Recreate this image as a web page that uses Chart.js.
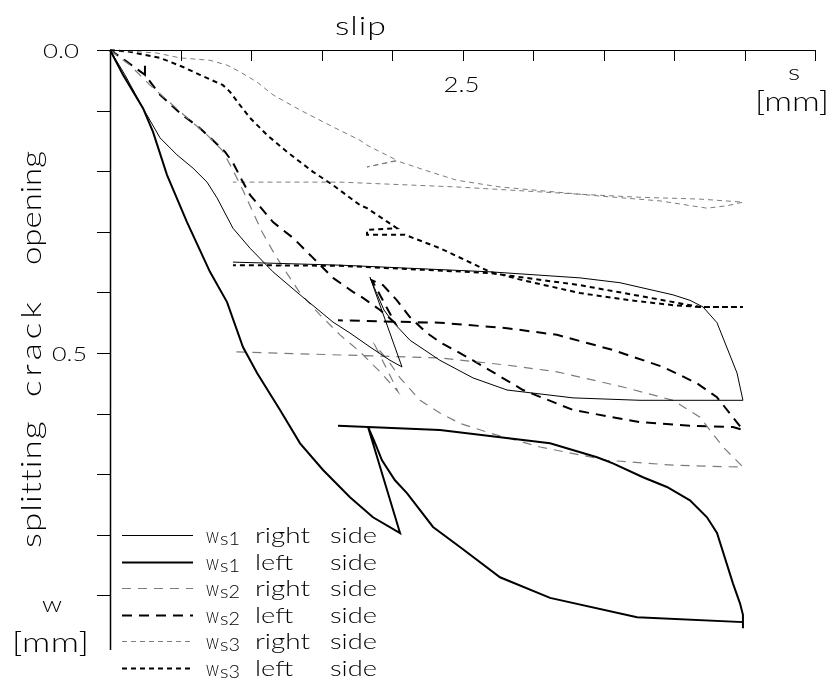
<!DOCTYPE html>
<html>
<head>
<meta charset="utf-8">
<script src="https://cdn.jsdelivr.net/npm/chart.js@4.4.0/dist/chart.umd.min.js"></script>
<style>
  html, body { margin: 0; padding: 0; background: #fff; }
  #wrap { width: 838px; height: 685px; }
</style>
</head>
<body>
<div id="wrap"><canvas id="slipChart"></canvas></div>
<script>
// slip s [mm] / splitting crack opening w [mm], one pair of arrays per curve

const ws1RightS = [0, 0.106, 0.234, 0.355, 0.475, 0.589, 0.688, 0.759, 0.872, 0.993, 1.156, 1.348, 1.582, 1.702, 1.844, 1.986, 2.071,
  1.844, 1.887, 1.943, 2.007, 2.128, 2.340, 2.574, 2.816, 3.284, 3.759, 4.489,
  4.447, 4.305, 4.206, 4.113, 3.993, 3.617, 3.333, 2.695, 1.631, 0.872]
const ws1RightW = [0, 0.041, 0.096, 0.145, 0.173, 0.195, 0.218, 0.244, 0.294, 0.327, 0.366, 0.404, 0.449, 0.467, 0.490, 0.512, 0.523,
  0.375, 0.399, 0.429, 0.449, 0.479, 0.512, 0.541, 0.561, 0.574, 0.578, 0.578,
  0.533, 0.450, 0.424, 0.413, 0.404, 0.384, 0.376, 0.366, 0.355, 0.350]

const ws1LeftS = [0, 0.092, 0.234, 0.305, 0.404, 0.546, 0.709, 0.830, 0.943, 1.043, 1.206, 1.348, 1.511, 1.702, 1.865, 2.057,
  1.830, 1.872, 1.929, 2.021, 2.106, 2.291, 2.482, 2.766, 3.121, 3.738, 4.489, 4.489,
  4.489, 4.468, 4.418, 4.305, 4.234, 4.113, 3.950, 3.780, 3.567, 3.454, 3.121, 2.340, 1.617]
const ws1LeftW = [0, 0.041, 0.096, 0.135, 0.206, 0.284, 0.366, 0.416, 0.490, 0.533, 0.594, 0.649, 0.693, 0.738, 0.771, 0.797,
  0.622, 0.644, 0.677, 0.710, 0.731, 0.787, 0.820, 0.870, 0.904, 0.936, 0.944, 0.954,
  0.932, 0.913, 0.880, 0.797, 0.771, 0.743, 0.721, 0.705, 0.682, 0.672, 0.649, 0.627, 0.620]

const ws2RightS = [0, 0.142, 0.284, 0.426, 0.567, 0.688, 0.794, 0.865, 0.936, 1.007, 1.078, 1.170, 1.262, 1.348, 1.489, 1.631, 1.773, 1.915, 2.043,
  1.879, 1.972, 2.057, 2.199, 2.340, 2.482, 2.695, 3.050, 3.525, 3.993, 4.447, 4.489,
  4.348, 4.184, 3.993, 3.638, 3.170, 2.816, 2.340, 0.872]
const ws2RightW = [0, 0.025, 0.058, 0.087, 0.116, 0.140, 0.165, 0.195, 0.228, 0.264, 0.300, 0.338, 0.371, 0.401, 0.437, 0.470, 0.498, 0.531, 0.564,
  0.487, 0.512, 0.541, 0.578, 0.599, 0.616, 0.632, 0.655, 0.677, 0.685, 0.688, 0.688,
  0.655, 0.606, 0.578, 0.556, 0.531, 0.520, 0.508, 0.498]

const ws2LeftS = [0, 0.106, 0.248, 0.248, 0.248, 0.355, 0.496, 0.638, 0.730, 0.816, 0.872, 0.936, 0.993, 1.156, 1.298, 1.440, 1.582, 1.723, 1.794, 1.915, 2.021,
  1.858, 1.936, 2.035, 2.128, 2.248, 2.340, 2.574, 2.929, 3.284, 3.759, 4.113, 4.418, 4.489,
  4.418, 4.305, 4.163, 3.922, 3.567, 3.170, 2.816, 2.340, 1.617]
const ws2LeftW = [0, 0.017, 0.041, 0.026, 0.041, 0.074, 0.104, 0.129, 0.149, 0.168, 0.186, 0.215, 0.239, 0.284, 0.310, 0.343, 0.376, 0.399, 0.409, 0.429, 0.450,
  0.380, 0.388, 0.413, 0.441, 0.467, 0.482, 0.512, 0.561, 0.594, 0.614, 0.620, 0.622, 0.627,
  0.606, 0.573, 0.550, 0.523, 0.495, 0.470, 0.459, 0.450, 0.446]

const ws3RightS = [0, 0.142, 0.333, 0.496, 0.709, 0.830, 0.922, 1.043, 1.156, 1.348, 1.582, 1.773, 1.823, 2.035,
  1.823, 2.035, 2.270, 2.461, 2.766, 3.475, 3.901, 4.234, 4.376, 4.489,
  4.184, 3.759, 3.333, 2.461, 1.631, 0.872]
const ws3RightW = [0, 0.002, 0.005, 0.013, 0.017, 0.025, 0.036, 0.053, 0.074, 0.099, 0.127, 0.149, 0.157, 0.182,
  0.193, 0.183, 0.201, 0.215, 0.226, 0.241, 0.249, 0.261, 0.257, 0.251,
  0.246, 0.243, 0.238, 0.226, 0.218, 0.218]

const ws3LeftS = [0, 0.142, 0.355, 0.518, 0.638, 0.801, 0.851, 0.922, 0.993, 1.113, 1.255, 1.440, 1.582, 1.773, 1.823, 2.035,
  1.823, 1.823, 2.092, 2.340, 2.695, 2.929, 3.333, 3.688, 3.993, 4.184, 4.489,
  4.184, 3.809, 3.333, 2.695, 1.631, 0.872]
const ws3LeftW = [0, 0.003, 0.013, 0.028, 0.041, 0.058, 0.069, 0.091, 0.112, 0.140, 0.168, 0.201, 0.223, 0.256, 0.261, 0.294,
  0.297, 0.305, 0.305, 0.327, 0.366, 0.380, 0.401, 0.413, 0.421, 0.424, 0.424,
  0.424, 0.408, 0.388, 0.368, 0.356, 0.355]

// axis ticks
const xTicks = [0, 0.5, 1, 1.5, 2, 2.5, 3, 3.5, 4, 4.5, 5]
const yTicks = [0, 0.1, 0.2, 0.3, 0.4, 0.5, 0.6, 0.7, 0.8, 0.9]
const xTickLabels = ['2.5']
const yTickLabels = ['0.0', '0.5']

const GREY = '#7c7c7c'

function toPoints(s, w) {
  return s.map((v, i) => ({ x: v, y: w[i] }))
}

function curve(sub, side, s, w, color, width, dash) {
  return {
    label: 'w' + sub + ' ' + side + ' side',
    sub: sub,
    side: side,
    data: toPoints(s, w),
    showLine: true,
    borderColor: color,
    borderWidth: width,
    borderDash: dash,
    pointRadius: 0,
    tension: 0,
    clip: false
  }
}

const datasets = [
  curve('s1', 'right', ws1RightS, ws1RightW, '#000', 1, []),
  curve('s1', 'left', ws1LeftS, ws1LeftW, '#000', 2, []),
  curve('s2', 'right', ws2RightS, ws2RightW, GREY, 1.2, [9, 7]),
  curve('s2', 'left', ws2LeftS, ws2LeftW, '#000', 2, [10, 7]),
  curve('s3', 'right', ws3RightS, ws3RightW, GREY, 1, [5, 4]),
  curve('s3', 'left', ws3LeftS, ws3LeftW, '#000', 2, [5, 4])
]

// wide plotter-like lettering: glyphs stretched, rest of the width as letter spacing
function spaced(ctx, str, left, base, size, width) {
  ctx.font = '300 ' + size + 'px Lato'
  ctx.letterSpacing = '0px'
  const m = ctx.measureText(str).width
  const k = Math.min(1.3, width / m)
  const sp = str.length > 1 ? (width - m * k) / (str.length - 1) : 0
  ctx.save()
  ctx.translate(left, base)
  ctx.scale(k, 1)
  ctx.letterSpacing = (sp / k) + 'px'
  ctx.fillText(str, 0, 0)
  ctx.restore()
  ctx.letterSpacing = '0px'
}

const axesPlugin = {
  id: 'plotterAxes',
  afterDraw(chart) {
    const ctx = chart.ctx
    const xs = chart.scales.x
    const ys = chart.scales.y
    const left = Math.round(xs.getPixelForValue(0))
    const top = Math.round(ys.getPixelForValue(0))
    const bottom = Math.round(chart.chartArea.bottom)

    ctx.save()
    ctx.strokeStyle = '#000'
    ctx.setLineDash([])

    // top slip axis, ticks pointing down
    ctx.lineWidth = 1
    ctx.beginPath()
    ctx.moveTo(left, top + 0.5)
    ctx.lineTo(xs.getPixelForValue(xTicks[xTicks.length - 1]), top + 0.5)
    for (const t of xTicks) {
      if (t === 0) continue
      const px = Math.round(xs.getPixelForValue(t)) + 0.5
      ctx.moveTo(px, top)
      ctx.lineTo(px, top + 11)
    }
    ctx.stroke()

    // left opening axis, ticks pointing left
    ctx.lineWidth = 1.5
    ctx.beginPath()
    ctx.moveTo(left + 0.5, top)
    ctx.lineTo(left + 0.5, bottom)
    ctx.stroke()
    ctx.lineWidth = 1
    ctx.beginPath()
    for (const t of yTicks) {
      const py = Math.round(ys.getPixelForValue(t)) + 0.5
      ctx.moveTo(left - 13, py)
      ctx.lineTo(left, py)
    }
    ctx.stroke()

    ctx.fillStyle = '#000'
    ctx.textAlign = 'left'
    ctx.textBaseline = 'alphabetic'

    // tick labels
    const x25 = xs.getPixelForValue(parseFloat(xTickLabels[0]))
    spaced(ctx, xTickLabels[0], x25 - 19, top + 42, 22, 36)
    spaced(ctx, yTickLabels[0], 43, ys.getPixelForValue(0) + 8, 20, 36)
    spaced(ctx, yTickLabels[1], 52, ys.getPixelForValue(0.5) + 8, 20, 35)

    // axis titles
    spaced(ctx, 'slip', 335, 35, 26, 51)
    spaced(ctx, 's', 788, 80, 22, 14)
    spaced(ctx, '[mm]', 755, 111, 27, 74)
    spaced(ctx, 'w', 42, 612, 22, 20)
    spaced(ctx, '[mm]', 12, 652, 27, 77)

    ctx.save()
    ctx.translate(41, 548)
    ctx.rotate(-Math.PI / 2)
    spaced(ctx, 'splitting', 0, 0, 27, 126)
    spaced(ctx, 'crack', 151, 0, 27, 95)
    spaced(ctx, 'opening', 283, 0, 27, 114)
    ctx.restore()

    // legend
    chart.data.datasets.forEach((ds, i) => {
      const ly = 535 + i * 26.6
      ctx.strokeStyle = ds.borderColor
      ctx.lineWidth = ds.borderWidth
      ctx.setLineDash(ds.borderDash)
      ctx.beginPath()
      ctx.moveTo(122, Math.round(ly) + 0.5)
      ctx.lineTo(193, Math.round(ly) + 0.5)
      ctx.stroke()
      ctx.setLineDash([])
      ctx.fillStyle = '#000'
      spaced(ctx, 'w', 206, ly + 8, 22, 13)
      spaced(ctx, ds.sub, 220, ly + 10, 17, 20)
      spaced(ctx, ds.side, 255, ly + 8, 22, ds.side === 'right' ? 55 : 38)
      spaced(ctx, 'side', 330, ly + 8, 22, 47)
    })
    ctx.restore()
  }
}

new Chart(document.getElementById('slipChart'), {
  type: 'scatter',
  data: { datasets: datasets },
  options: {
    responsive: true,
    maintainAspectRatio: false,
    animation: false,
    layout: { padding: { left: 110, top: 50, right: 23, bottom: 35 } },
    plugins: {
      legend: { display: false },
      tooltip: { enabled: false }
    },
    scales: {
      x: { type: 'linear', display: false, min: 0, max: 5 },
      y: { type: 'linear', display: false, min: 0, max: 0.99, reverse: true }
    }
  },
  plugins: [axesPlugin]
})
</script>
</body>
</html>
